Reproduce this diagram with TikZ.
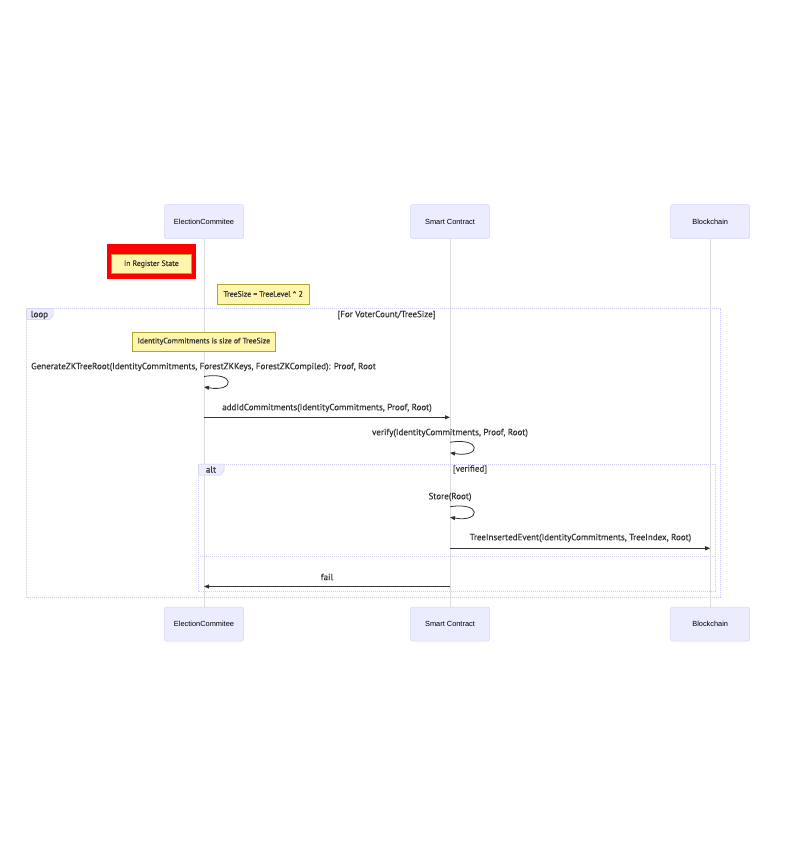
\documentclass[tikz,border=0pt]{standalone}
\usepackage{fontspec}
\setmainfont{Liberation Sans}
\newfontfamily\msgfont[FakeBold=0.4]{PT Sans}
\usetikzlibrary{arrows.meta}
\definecolor{actfill}{HTML}{ECECFF}
\definecolor{actdraw}{HTML}{D6D6F5}
\definecolor{notefill}{HTML}{FFF5AD}
\definecolor{notedraw}{HTML}{AAAA33}
\definecolor{txt}{HTML}{333333}
\definecolor{lifeln}{HTML}{DDDDDD}
\definecolor{frameln}{HTML}{CDCDF2}
\begin{document}
\begin{tikzpicture}[x=1pt,y=-1pt,
 actor/.style={draw=actdraw, fill=actfill, rounded corners=1.5pt, minimum width=79pt, minimum height=34pt, inner sep=0pt, font=\fontsize{7.4}{8}\selectfont, text=black, line width=0.5pt},
 note/.style={draw=notedraw, fill=notefill, inner sep=0pt, font=\msgfont\fontsize{7.8}{9}\selectfont, text=txt, line width=0.5pt},
 msg/.style={font=\msgfont\fontsize{9}{10}\selectfont, text=txt, inner sep=0pt},
 arr/.style={draw=txt, line width=0.8pt, -{Triangle[length=5pt,width=4pt]}},
 life/.style={draw=lifeln, line width=1pt},
 frame/.style={draw=frameln, line width=0.6pt, dash pattern=on 1pt off 1pt},
 tab/.style={fill=actfill, draw=frameln, line width=0.5pt},
]
\useasboundingbox[fill=white] (0,0) rectangle (784,842);
% actors
\node[actor] (ecT) at (204,221.6) {ElectionCommitee};
\node[actor] (scT) at (450,221.6) {Smart Contract};
\node[actor] (bcT) at (710.2,221.6) {Blockchain};
\node[actor] (ecB) at (204,624) {ElectionCommitee};
\node[actor] (scB) at (450,624) {Smart Contract};
\node[actor] (bcB) at (710.2,624) {Blockchain};
% lifelines
\draw[life] (ecT.south) -- (ecB.north);
\draw[life] (scT.south) -- (scB.north);
\draw[life] (bcT.south) -- (bcB.north);
% notes
\fill[red] (106.7,244.3) rectangle (196,278.7);
\node[note, minimum width=79.3pt, minimum height=19.4pt] (n1) at (151.35,264) {In Register State};
\node[note, minimum width=92.3pt, minimum height=19.7pt] (n2) at (263.2,293.9) {TreeSize = TreeLevel \^{} 2};
% loop frame
\draw[frame] (26.7,308.5) rectangle (720.5,597);
\filldraw[tab] (26.7,308.5) -- (53,308.5) -- (53,315.5) -- (49.5,319.5) -- (26.7,319.5) -- cycle;
\node[msg] (looplbl) at (39.5,315) {loop};
\node[msg] (loopcond) at (386.5,315) {[For VoterCount/TreeSize]};
\node[note, minimum width=143.7pt, minimum height=19.3pt] (n3) at (203.85,341.4) {IdentityCommitments is size of TreeSize};
% message 1: self
\node[msg] (t1) at (203.5,367) {GenerateZKTreeRoot(IdentityCommitments, ForestZKKeys, ForestZKCompiled): Proof, Root};
\coordinate (s1a) at (204,376.5);
\coordinate (s1b) at (204,387);
\draw[arr] (s1a) .. controls (235.6,371.2) and (235.6,392.3) .. (s1b);
% message 2
\node[msg] (t2) at (327,408) {addIdCommitments(IdentityCommitments, Proof, Root)};
\coordinate (m2a) at (204,417.3);
\coordinate (m2b) at (450,417.3);
\draw[arr] (m2a) -- (m2b);
% message 3 self
\node[msg] (t3) at (450,433) {verify(IdentityCommitments, Proof, Root)};
\coordinate (s3a) at (450,442.3);
\coordinate (s3b) at (450,452.8);
\draw[arr] (s3a) .. controls (481.6,437) and (481.6,458.1) .. (s3b);
% alt frame
\draw[frame] (198.3,464) rectangle (715.7,591);
\filldraw[tab] (198.3,464) -- (224,464) -- (224,471) -- (220.5,475) -- (198.3,475) -- cycle;
\node[msg] (altlbl) at (211,469.5) {alt};
\node[msg] (altcond) at (470,469.5) {[verified]};
% store
\node[msg] (t4) at (450,497) {Store(Root)};
\coordinate (s4a) at (450,506.8);
\coordinate (s4b) at (450,517.3);
\draw[arr] (s4a) .. controls (481.6,501.5) and (481.6,522.6) .. (s4b);
% tree inserted
\node[msg] (t5) at (580.5,538) {TreeInsertedEvent(IdentityCommitments, TreeIndex, Root)};
\coordinate (m5a) at (450,548.3);
\coordinate (m5b) at (710.2,548.3);
\draw[arr] (m5a) -- (m5b);
% separator
\coordinate (sepa) at (198.3,556);
\coordinate (sepb) at (715.7,556);
\draw[frame] (sepa) -- (sepb);
% fail
\node[msg] (t6) at (327,577) {fail};
\coordinate (m6a) at (450,586.5);
\coordinate (m6b) at (204,586.5);
\draw[arr] (m6a) -- (m6b);
\end{tikzpicture}
\end{document}
